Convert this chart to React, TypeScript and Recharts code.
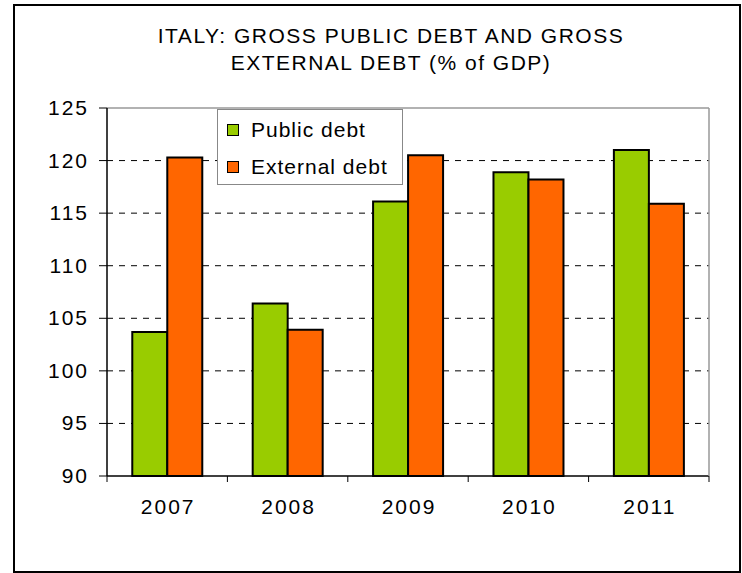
import React from 'react';
import { BarChart, Bar, XAxis, YAxis, CartesianGrid, Legend } from 'recharts';

const years = ['2007', '2008', '2009', '2010', '2011'];
const publicDebt = [103.7, 106.4, 116.1, 118.9, 121.0];
const externalDebt = [120.3, 103.9, 120.5, 118.2, 115.9];
const yTicks = [90, 95, 100, 105, 110, 115, 120, 125];
const gridValues = [95, 100, 105, 110, 115, 120];
const titleLines = ['ITALY: GROSS PUBLIC DEBT AND GROSS', 'EXTERNAL DEBT (% of GDP)'];
const seriesNames = { pub: 'Public debt', ext: 'External debt' };
const legendOrder = [seriesNames.pub, seriesNames.ext];

const data = years.map((y, i) => ({ year: y, pub: publicDebt[i], ext: externalDebt[i] }));

const FONT = '"Liberation Sans", Arial, sans-serif';

const YTick = (props: any) => {
  const { x, y, payload } = props;
  return (
    <g>
      <line x1={x - 8} x2={x} y1={y} y2={y} stroke="#000" strokeWidth={1} />
      <text
        x={x - 18}
        y={y}
        dy={7}
        textAnchor="end"
        fontFamily={FONT}
        fontSize={21}
        letterSpacing={2}
        fill="#000"
      >
        {payload.value}
      </text>
    </g>
  );
};

const XTick = (props: any) => {
  const { x, y, payload, index, width, visibleTicksCount } = props;
  const half = width / visibleTicksCount / 2;
  const isLast = index === visibleTicksCount - 1;
  return (
    <g>
      <line x1={x - half} x2={x - half} y1={y} y2={y + 6} stroke="#000" strokeWidth={1} />
      {isLast && <line x1={x + half} x2={x + half} y1={y} y2={y + 6} stroke="#000" strokeWidth={1} />}
      <text
        x={x + 1}
        y={y + 38}
        textAnchor="middle"
        fontFamily={FONT}
        fontSize={21}
        letterSpacing={2}
        fill="#000"
      >
        {payload.value}
      </text>
    </g>
  );
};

const LegendBox = (props: any) => {
  const items = [...(props.payload || [])].sort(
    (a: any, b: any) => legendOrder.indexOf(a.value) - legendOrder.indexOf(b.value)
  );
  return (
    <div
      style={{
        width: 184,
        height: 74,
        border: '1px solid #888',
        background: '#fff',
        fontFamily: FONT,
        fontSize: 21,
        letterSpacing: 1,
        position: 'relative',
      }}
    >
      {items.map((it: any, i: number) => (
        <div
          key={i}
          style={{ position: 'absolute', left: 9, top: 8 + i * 37, height: 24, display: 'flex', alignItems: 'center' }}
        >
          <span
            style={{
              display: 'inline-block',
              width: 10,
              height: 10,
              background: it.color,
              border: '1.5px solid #000',
              marginRight: 12,
            }}
          />
          <span style={{ color: '#000', whiteSpace: 'nowrap' }}>{it.value}</span>
        </div>
      ))}
    </div>
  );
};

export default function App() {
  return (
    <div style={{ position: 'absolute', left: 0, top: 0, width: 742, height: 573, background: '#fff' }}>
      <div
        style={{
          position: 'absolute',
          left: 13,
          top: 4,
          width: 724,
          height: 565,
          border: '2px solid #000',
        }}
      />
      <svg width={742} height={100} style={{ position: 'absolute', left: 0, top: 0 }}>
        {titleLines.map((t, i) => (
          <text
            key={i}
            x={391}
            y={43 + i * 27}
            textAnchor="middle"
            fontFamily={FONT}
            fontSize={21}
            letterSpacing={1.5}
            fill="#000"
          >
            {t}
          </text>
        ))}
      </svg>
      <div style={{ position: 'absolute', left: 0, top: 0 }}>
        <BarChart
          width={742}
          height={573}
          data={data}
          margin={{ top: 107, right: 32, bottom: 57, left: 0 }}
          barCategoryGap="21%"
          barGap={0}
        >
          <CartesianGrid
            vertical={false}
            stroke="#000"
            strokeDasharray="6 6"
            horizontalValues={gridValues}
          />
          <XAxis
            dataKey="year"
            height={40}
            stroke="#000"
            axisLine={{ stroke: '#000', strokeWidth: 1.5 }}
            tickLine={false}
            tickSize={0}
            tickMargin={0}
            tick={<XTick />}
            interval={0}
          />
          <XAxis
            xAxisId="top"
            dataKey="year"
            orientation="top"
            height={1}
            tick={false}
            tickLine={false}
            stroke="#999"
            axisLine={{ stroke: '#999', strokeWidth: 1.5 }}
          />
          <YAxis
            width={107}
            domain={[90, 125]}
            ticks={yTicks}
            interval={0}
            tickSize={0}
            tickMargin={0}
            tickLine={false}
            tick={<YTick />}
            stroke="#000"
            axisLine={{ stroke: '#000', strokeWidth: 1.5 }}
          />
          <YAxis
            yAxisId="r"
            orientation="right"
            width={1}
            domain={[90, 125]}
            tick={false}
            tickLine={false}
            stroke="#999"
            axisLine={{ stroke: '#999', strokeWidth: 1.5 }}
          />
          <Legend
            layout="vertical"
            align="center"
            verticalAlign="middle"
            content={<LegendBox />}
            wrapperStyle={{ position: 'absolute', left: 217, top: 109, width: 186, height: 76 }}
          />
          <Bar dataKey="pub" name={seriesNames.pub} fill="#99CC00" stroke="#000" strokeWidth={2} isAnimationActive={false} />
          <Bar dataKey="ext" name={seriesNames.ext} fill="#FF6600" stroke="#000" strokeWidth={2} isAnimationActive={false} />
        </BarChart>
      </div>
    </div>
  );
}
